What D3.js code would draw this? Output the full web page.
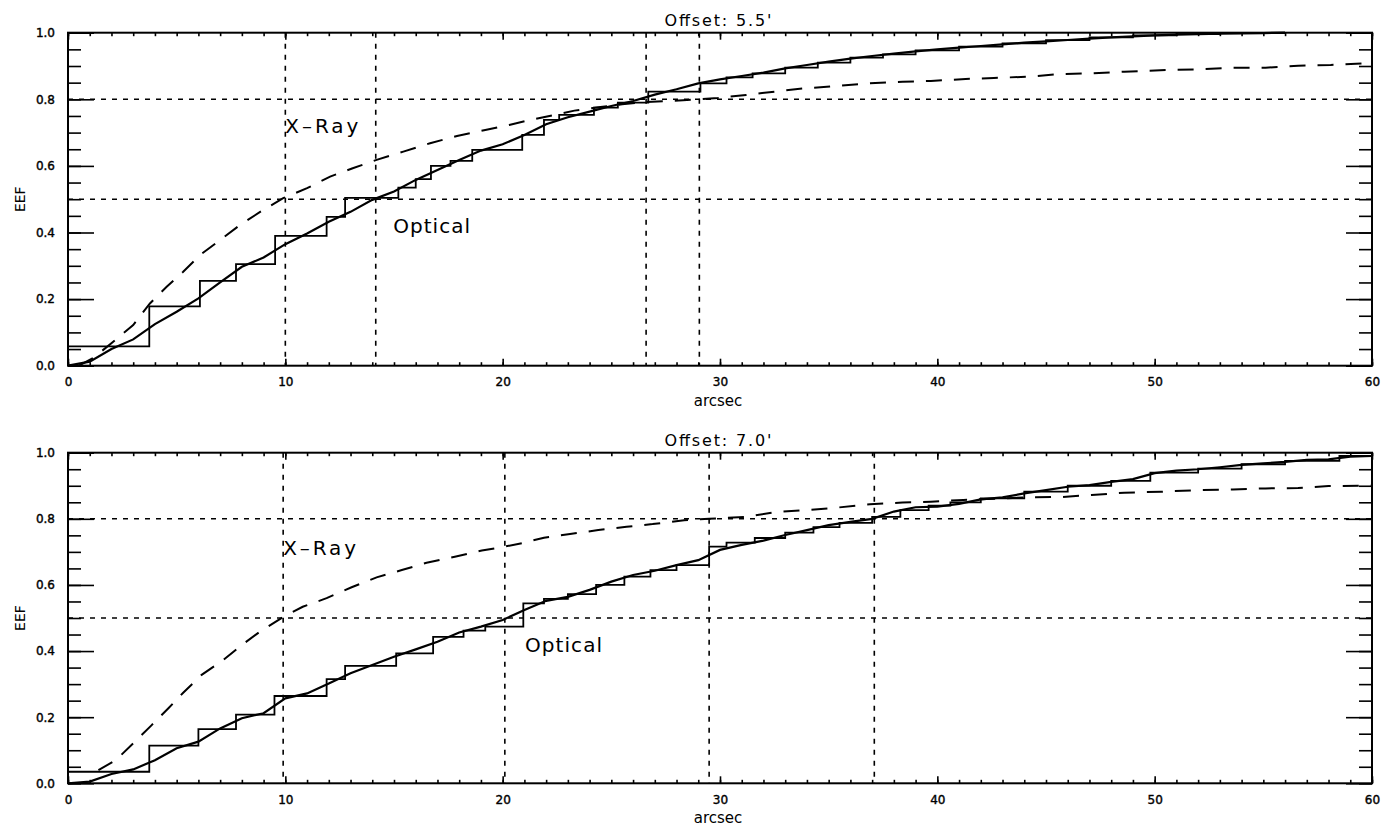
<!DOCTYPE html>
<html lang="en">
<head>
    <meta charset="UTF-8">
    <title>EEF vs radius</title>
    <script src="https://d3js.org/d3.v7.min.js" charset="utf-8"></script>
    <style>
        body { margin: 0; background: #fff; }
        svg { display: block; background: #fff; }
        text { font-family: "DejaVu Sans", sans-serif; fill: #000; }
    </style>
</head>
<body>
    <div id="chart"></div>
    <script>
        // ---- data ----
        var titles = ["Offset: 5.5'", "Offset: 7.0'"];
        var xTickValues = [0, 10, 20, 30, 40, 50, 60];
        var yTickValues = [0, 0.2, 0.4, 0.6, 0.8, 1.0];
        var eefLevels = [0.5, 0.8];

        // radii where the curves reach 50% / 80%
        var radiiTop = [10, 14.16, 26.6, 29.05];
        var radiiBottom = [9.9, 20.1, 29.5, 37.1];

        // optical, fine sampling (arcsec, EEF)
        var fineRTop = [0,1,2,3,4,5,6,7,8,9,10,11,12,13,14,15,16,17,18,19,20,21,22,23,24,25,26,27,28,29,30,31,32,33,34,35,36,37,38,39,40,41,42,43,44,45,46,47,48,49,50,51,52,53,54,55,56];
        var fineTop = [0,0.012,0.05,0.079,0.125,0.162,0.202,0.25,0.297,0.325,0.365,0.397,0.432,0.462,0.498,0.523,0.558,0.588,0.618,0.646,0.665,0.693,0.725,0.746,0.763,0.78,0.795,0.814,0.83,0.848,0.86,0.87,0.88,0.893,0.903,0.913,0.922,0.93,0.937,0.944,0.95,0.955,0.96,0.965,0.97,0.974,0.978,0.982,0.986,0.989,0.992,0.994,0.996,0.997,0.998,0.999,1.0];

        var fineRBottom = [0,1,2,3,4,5,6,7,8,9,10,11,12,13,14,15,16,17,18,19,20,21,22,23,24,25,26,27,28,29,30,31,32,33,34,35,36,37,38,39,40,41,42,43,44,45,46,47,48,49,50,51,52,53,54,55,56,57,58,59,60];
        var fineBottom = [0,0.005,0.028,0.042,0.07,0.106,0.126,0.166,0.197,0.212,0.257,0.272,0.302,0.333,0.358,0.383,0.405,0.428,0.456,0.474,0.494,0.524,0.552,0.564,0.585,0.61,0.63,0.643,0.66,0.675,0.706,0.721,0.734,0.751,0.766,0.781,0.791,0.8,0.822,0.835,0.837,0.845,0.859,0.865,0.877,0.887,0.897,0.902,0.912,0.92,0.938,0.946,0.95,0.956,0.963,0.968,0.972,0.978,0.98,0.988,0.99];

        // optical, coarse steps (step start radius, level)
        var coarseRTop = [0,3.74,6.07,7.73,9.53,11.9,12.75,15.2,16.0,16.7,17.6,18.6,20.9,21.9,22.6,24.2,25.3,26.7,29.1,30.3,31.5,33.0,34.5,36.0,37.5,39.0,41.0,43.0,45.0,47.0,49.0,51.0,53.0,56.0];
        var coarseTop = [0.058,0.178,0.255,0.305,0.39,0.447,0.504,0.535,0.56,0.60,0.615,0.648,0.693,0.738,0.753,0.775,0.79,0.823,0.848,0.866,0.878,0.895,0.91,0.925,0.935,0.947,0.958,0.968,0.978,0.986,0.992,0.996,0.999,1.0];

        var coarseRBottom = [0,3.74,6.0,7.73,9.5,11.9,12.75,15.1,16.8,18.2,19.2,20.95,21.9,23.0,24.3,25.6,26.8,28.0,29.5,30.3,31.6,33.0,34.3,35.5,37.0,38.3,39.6,40.6,42.0,44.0,46.0,48.0,49.8,52.0,54.0,56.0,58.5,60];
        var coarseBottom = [0.035,0.114,0.164,0.208,0.264,0.315,0.355,0.393,0.443,0.462,0.474,0.544,0.558,0.572,0.60,0.625,0.645,0.66,0.716,0.728,0.742,0.758,0.775,0.788,0.806,0.826,0.84,0.85,0.862,0.882,0.9,0.915,0.94,0.952,0.965,0.975,0.99,0.99];

        // X-ray curves (arcsec, EEF)
        var xrayRTop = [0.5,1.2,2.08,3.0,3.77,4.54,5.3,6.07,6.99,7.9,8.99,9.9,11.0,12.06,13.1,14.2,15.43,16.66,17.9,19.2,20.3,21.4,22.4,23.3,24.4,25.5,26.6,28.3,29.9,31.2,32.5,33.9,35.4,36.9,38.4,39.7,41.3,42.6,44.2,45.7,47.1,48.6,50.6,52.0,53.6,55.1,56.6,58.1,59.6,60];
        var xrayTop = [0,0.025,0.072,0.122,0.187,0.237,0.282,0.332,0.377,0.422,0.468,0.503,0.533,0.568,0.593,0.618,0.643,0.668,0.690,0.708,0.723,0.74,0.753,0.766,0.776,0.785,0.792,0.797,0.804,0.813,0.823,0.833,0.84,0.848,0.853,0.855,0.861,0.864,0.868,0.876,0.878,0.883,0.888,0.89,0.895,0.895,0.901,0.903,0.908,0.909];

        var xrayRBottom = [1.4,2.2,3.08,3.85,4.62,5.3,6.15,7.15,7.99,8.84,9.9,10.8,11.9,13.05,14.2,15.36,16.5,17.8,19.04,20.1,21.0,21.9,23.1,24.4,25.7,26.9,28.35,29.5,31.2,32.5,33.9,35.4,36.9,38.4,39.7,41.2,42.7,44.2,45.7,47.1,48.6,50.3,52.0,53.6,55.1,56.6,58.0,59.6,60];
        var xrayBottom = [0.04,0.07,0.126,0.176,0.227,0.274,0.328,0.373,0.418,0.459,0.503,0.534,0.56,0.593,0.623,0.645,0.667,0.685,0.704,0.716,0.728,0.743,0.754,0.766,0.776,0.784,0.796,0.80,0.806,0.82,0.826,0.834,0.844,0.849,0.852,0.857,0.861,0.865,0.866,0.872,0.879,0.882,0.887,0.889,0.892,0.893,0.899,0.9,0.901];

        // label anchors (arcsec, EEF)
        var xrayLabelAt = [[10.0, 0.70], [9.9, 0.69]];
        var opticalLabelAt = [[14.96, 0.40], [21.03, 0.397]];

        // ---- layout ----
        var svgWidth = 1381, svgHeight = 833;
        var plotLeft = 68, plotRight = 1372;

        var svg = d3.select('#chart').append('svg')
            .attr('width', svgWidth)
            .attr('height', svgHeight);

        var xScale = d3.scaleLinear().domain([0, 60]).range([plotLeft, plotRight]);
        var xMinor = d3.range(0, 61, 1);
        var yMinor = d3.range(0, 1.0001, 0.05);

        function zip(rs, vs) { return rs.map(function(r, i) { return [r, vs[i]]; }); }

        var panels = [
            { top: 32.7, bottom: 365.7, title: titles[0], radii: radiiTop,
              fine: zip(fineRTop, fineTop), coarse: zip(coarseRTop, coarseTop), xray: zip(xrayRTop, xrayTop),
              xrayLabel: xrayLabelAt[0], opticalLabel: opticalLabelAt[0] },
            { top: 452.7, bottom: 783.3, title: titles[1], radii: radiiBottom,
              fine: zip(fineRBottom, fineBottom), coarse: zip(coarseRBottom, coarseBottom), xray: zip(xrayRBottom, xrayBottom),
              xrayLabel: xrayLabelAt[1], opticalLabel: opticalLabelAt[1] }
        ];

        panels.forEach(function(p) {
            var yScale = d3.scaleLinear().domain([0, 1]).range([p.bottom, p.top]);
            var g = svg.append('g');

            // dotted reference lines
            g.selectAll('.hline').data(eefLevels).enter().append('line')
                .attr('x1', plotLeft).attr('x2', plotRight)
                .attr('y1', function(d) { return yScale(d); })
                .attr('y2', function(d) { return yScale(d); })
                .attr('stroke', '#000').attr('stroke-width', 1.6)
                .attr('stroke-dasharray', '5,6');
            g.selectAll('.vline').data(p.radii).enter().append('line')
                .attr('x1', function(d) { return xScale(d); })
                .attr('x2', function(d) { return xScale(d); })
                .attr('y1', p.top).attr('y2', p.bottom)
                .attr('stroke', '#000').attr('stroke-width', 1.6)
                .attr('stroke-dasharray', '5,6');

            var line = d3.line().x(function(d) { return xScale(d[0]); }).y(function(d) { return yScale(d[1]); });
            var stepLine = d3.line().curve(d3.curveStepAfter)
                .x(function(d) { return xScale(d[0]); }).y(function(d) { return yScale(d[1]); });

            g.append('path').attr('d', stepLine(p.coarse))
                .attr('fill', 'none').attr('stroke', '#000').attr('stroke-width', 1.8);
            g.append('path').attr('d', line(p.fine))
                .attr('fill', 'none').attr('stroke', '#000').attr('stroke-width', 2.2);
            g.append('path').attr('d', line(p.xray))
                .attr('fill', 'none').attr('stroke', '#000').attr('stroke-width', 2)
                .attr('stroke-dasharray', '16,12');

            // axes: minor then major ticks on all four sides
            function styleAxis(sel) {
                sel.select('.domain').remove();
                sel.selectAll('.tick line').attr('stroke', '#000').attr('stroke-width', 1.6);
                sel.selectAll('.tick text').style('font-size', '12px')
                    .style('font-family', '"DejaVu Sans", sans-serif')
                    .attr('fill', '#000').attr('stroke', '#000').attr('stroke-width', 0.4);
            }
            g.append('g').attr('transform', 'translate(0,' + p.bottom + ')')
                .call(d3.axisBottom(xScale).tickValues(xMinor).tickSize(-3.5).tickFormat('')).call(styleAxis);
            g.append('g').attr('transform', 'translate(0,' + p.bottom + ')')
                .call(d3.axisBottom(xScale).tickValues(xTickValues).tickSize(-7).tickPadding(12).tickFormat(d3.format('d'))).call(styleAxis);
            g.append('g').attr('transform', 'translate(0,' + p.top + ')')
                .call(d3.axisTop(xScale).tickValues(xMinor).tickSize(-3.5).tickFormat('')).call(styleAxis);
            g.append('g').attr('transform', 'translate(0,' + p.top + ')')
                .call(d3.axisTop(xScale).tickValues(xTickValues).tickSize(-7).tickFormat('')).call(styleAxis);

            g.append('g').attr('transform', 'translate(' + plotLeft + ',0)')
                .call(d3.axisLeft(yScale).tickValues(yMinor).tickSize(-13).tickFormat('')).call(styleAxis);
            g.append('g').attr('transform', 'translate(' + plotLeft + ',0)')
                .call(d3.axisLeft(yScale).tickValues(yTickValues).tickSize(-26).tickPadding(13).tickFormat(d3.format('.1f'))).call(styleAxis);
            g.append('g').attr('transform', 'translate(' + plotRight + ',0)')
                .call(d3.axisRight(yScale).tickValues(yMinor).tickSize(-13).tickFormat('')).call(styleAxis);
            g.append('g').attr('transform', 'translate(' + plotRight + ',0)')
                .call(d3.axisRight(yScale).tickValues(yTickValues).tickSize(-26).tickFormat('')).call(styleAxis);

            // frame
            g.append('rect')
                .attr('x', plotLeft).attr('y', p.top)
                .attr('width', plotRight - plotLeft).attr('height', p.bottom - p.top)
                .attr('fill', 'none').attr('stroke', '#000').attr('stroke-width', 2);

            // title and axis titles
            g.append('text')
                .attr('x', 718).attr('y', p.top - 7)
                .attr('text-anchor', 'middle')
                .attr('textLength', 107).attr('lengthAdjust', 'spacing')
                .style('font-size', '16px')
                .text(p.title);
            g.append('text')
                .attr('x', 718).attr('y', p.bottom + 40)
                .attr('text-anchor', 'middle')
                .style('font-size', '15px')
                .text('arcsec');
            g.append('text')
                .attr('transform', 'translate(25,' + ((p.top + p.bottom) / 2) + ') rotate(-90)')
                .attr('text-anchor', 'middle')
                .style('font-size', '14px')
                .text('EEF');

            // curve labels
            g.append('text')
                .attr('x', xScale(p.xrayLabel[0])).attr('y', yScale(p.xrayLabel[1]))
                .attr('textLength', 73).attr('lengthAdjust', 'spacing')
                .style('font-size', '20px')
                .text('X\u2013Ray');
            g.append('text')
                .attr('x', xScale(p.opticalLabel[0])).attr('y', yScale(p.opticalLabel[1]))
                .attr('textLength', 77).attr('lengthAdjust', 'spacing')
                .style('font-size', '20px')
                .text('Optical');
        });
    </script>
</body>
</html>
